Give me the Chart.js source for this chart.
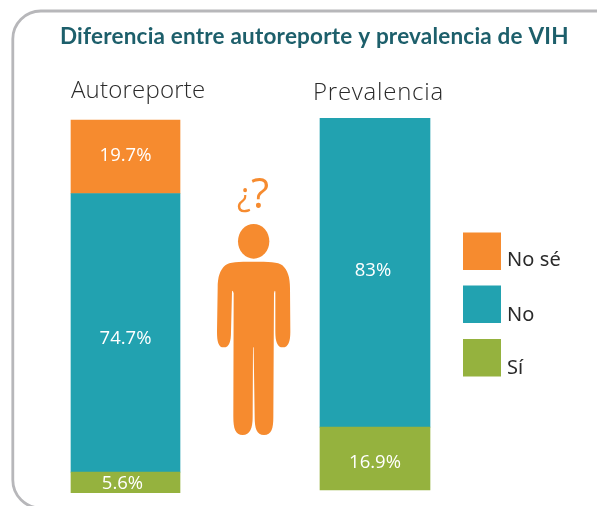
<!DOCTYPE html>
<html><head><meta charset="utf-8">
<style>html,body{margin:0;padding:0;background:#fff;overflow:hidden}#wrap{position:absolute;left:0;top:0;width:597px;height:506px}</style>
<script src="https://cdn.jsdelivr.net/npm/chart.js@4"></script>
</head><body><div id="wrap"><canvas id="c" width="597" height="506"></canvas></div>
<script>
const chartTitle = "Diferencia entre autoreporte y prevalencia de VIH";
const categories = ["Autoreporte", "Prevalencia"];
const seriesNames = ["Sí", "No", "No sé"];
const si = [5.6, 16.9];
const no = [74.7, 83];
const nose = [19.7, null];
const valueLabels = [["5.6%", "16.9%"], ["74.7%", "83%"], ["19.7%", ""]];
const colors = ["#95b23e", "#22a2b0", "#f68b2f"];
const allSeries = [si, no, nose];

const barWidths = [109, 110];
const datasets = [];
allSeries.forEach((vals, s) => {
  datasets.push({label: seriesNames[s], data: [vals[0], null], yAxisID: "y", backgroundColor: colors[s], borderWidth: 0, barThickness: barWidths[0], _s: s, _c: 0});
  datasets.push({label: seriesNames[s], data: [null, vals[1]], yAxisID: "y2", backgroundColor: colors[s], borderWidth: 0, barThickness: barWidths[1], _s: s, _c: 1});
});

const labelDy = [[1, 4], [6, -2], [-1, 0]];
const labelDx = [[-3, 0], [0, -2], [0, 0]];
const catPos = [[71, 98], [313, 100]];
const catSpacing = ["0.2px", "0.75px"];
const legendY = [339, 285.5, 232.5];
const labelBase = [374, 321, 266];
const personPath = new Path2D("M190 305 C235 305 265 305 277 316 C293 330 300 352 300 385 L301 515 C301 545 295 562 278 562 C262 562 256 545 256 515 L256 395 Q254 388 252 400 L250 770 C250 805 245 825 222 825 C200 825 194 805 194 770 L191 565 Q190 555 189 565 L188 770 C188 805 180 825 158 825 C136 825 130 805 130 770 L131 400 Q128 388 126 395 L123 515 C123 545 118 562 101 562 C85 562 81 545 81 515 L83 385 C83 350 90 330 106 316 C118 305 145 305 190 305 Z");

const deco = {
  id: "deco",
  beforeDraw(ch) {
    const g = ch.ctx; g.save();
    g.strokeStyle = "#b7b7ba"; g.lineWidth = 2.8;
    g.beginPath(); g.roundRect(12.8, 11, 700, 497, 28); g.stroke();
    g.restore();
  },
  afterDraw(ch) {
    const g = ch.ctx; g.save();
    g.textBaseline = "alphabetic"; g.textAlign = "left";
    g.fillStyle = "#1d5f6b"; g.font = "bold 22.5px Lato"; g.letterSpacing = "0.2px";
    g.fillText(chartTitle, 60, 44);
    g.fillStyle = "#2a2a2a"; g.font = "300 24px 'Open Sans'";
    categories.forEach((t, i) => { g.letterSpacing = catSpacing[i]; g.fillText(t, catPos[i][0], catPos[i][1]); });
    g.letterSpacing = "0px";
    g.fillStyle = "#ffffff"; g.font = "18.5px 'Open Sans'"; g.textAlign = "center"; g.textBaseline = "middle";
    ch.data.datasets.forEach((d, i) => {
      const el = ch.getDatasetMeta(i).data[d._c];
      const t = valueLabels[d._s][d._c];
      if (!el || !t) return;
      g.fillText(t, el.x + labelDx[d._s][d._c], (el.y + el.base) / 2 + labelDy[d._s][d._c]);
    });
    g.fillStyle = "#f68b2f"; g.textAlign = "left"; g.textBaseline = "alphabetic";
    g.font = "42px 'Open Sans'"; g.fillText("?", 251, 208);
    g.font = "32px 'Open Sans'"; g.fillText("¿", 237, 206);
    g.save(); g.translate(190, 160); g.scale(1/3, 1/3);
    g.beginPath(); g.ellipse(191, 244, 47, 52, 0, 0, Math.PI * 2); g.fill();
    g.fill(personPath); g.restore();
    g.font = "20px 'Noto Sans'"; g.letterSpacing = "0.1px";
    seriesNames.forEach((n, s) => {
      g.fillStyle = colors[s];
      g.fillRect(463, legendY[s], 38, 37.5);
      g.fillStyle = "#2a2a2a";
      g.fillText(n, 507, labelBase[s]);
    });
    g.restore();
  }
};

new Chart(document.getElementById("c"), {
  type: "bar",
  data: {labels: categories, datasets},
  options: {
    responsive: false, animation: false,
    layout: {padding: {left: 0.75, right: 97.25, top: 118, bottom: 13}},
    plugins: {legend: {display: false}, tooltip: {enabled: false}, title: {display: false}},
    scales: {
      x: {stacked: true, display: false},
      y: {stacked: true, display: false, min: 0, max: 100.54},
      y2: {stacked: true, display: false, min: -0.8, max: 99.9}
    }
  },
  plugins: [deco]
});
</script></body></html>
